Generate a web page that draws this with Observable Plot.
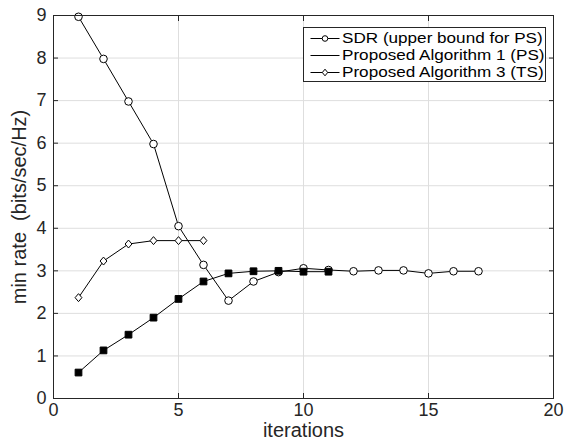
<!DOCTYPE html>
<html>
<head>
<meta charset="utf-8">
<script src="https://cdn.jsdelivr.net/npm/d3@7"></script>
<script src="https://cdn.jsdelivr.net/npm/@observablehq/plot@0.6"></script>
<style>
  body { margin: 0; background: #fff; }
  #wrap { position: relative; width: 565px; height: 444px; font-family: "Liberation Sans", Arial, sans-serif; }
  #wrap svg.plot text { fill: #262626; }
  #wrap [aria-label="x-axis label"] text, #wrap [aria-label="y-axis label"] text { font-size: 20px; }
  #legend { position: absolute; left: 303px; top: 27px; width: 241px; height: 53px; border: 1px solid #262626; background: #fff; font-size: 14.5px; color: #000; }
  #legend .row { position: absolute; left: 6px; height: 17px; width: 236px; }
  #legend svg { position: absolute; left: 0; top: 0; display: block; }
  #legend .lbl { position: absolute; left: 32px; top: 0; line-height: 17px; white-space: nowrap; transform: scaleX(1.18); transform-origin: 0 50%; }
</style>
</head>
<body>
<div id="wrap"></div>
<script>
const iterations = [1,2,3,4,5,6,7,8,9,10,11,12,13,14,15,16,17];
const sdrValues = [8.97, 7.98, 6.98, 5.98, 4.05, 3.14, 2.30, 2.75, 2.97, 3.06, 3.02, 2.99, 3.01, 3.01, 2.94, 2.99, 2.99];
const alg1Values = [0.61, 1.13, 1.50, 1.90, 2.34, 2.75, 2.94, 2.99, 3.00, 2.98, 2.98];
const alg3Values = [2.37, 3.23, 3.63, 3.71, 3.71, 3.71];
const xTicks = [0, 5, 10, 15, 20];
const yTicks = [0, 1, 2, 3, 4, 5, 6, 7, 8, 9];
const seriesNames = ["SDR (upper bound for PS)", "Proposed Algorithm 1 (PS)", "Proposed Algorithm 3 (TS)"];
const xLabel = "iterations";
const yLabel = "min rate\u00a0 (bits/sec/Hz)";

const sdr = sdrValues.map((v, i) => ({x: iterations[i], y: v}));
const alg1 = alg1Values.map((v, i) => ({x: iterations[i], y: v}));
const alg3 = alg3Values.map((v, i) => ({x: iterations[i], y: v}));

// MATLAB-like diamond (slightly taller than wide)
const matDiamond = {
  draw(context, size) {
    const r = Math.sqrt(size / Math.PI);
    const w = r * 0.9, h = r * 1.05;
    context.moveTo(0, -h);
    context.lineTo(w, 0);
    context.lineTo(0, h);
    context.lineTo(-w, 0);
    context.closePath();
  }
};

const chart = Plot.plot({
  width: 565,
  height: 444,
  marginLeft: 53,
  marginRight: 12,
  marginTop: 15,
  marginBottom: 46,
  style: { fontFamily: "'Liberation Sans', Arial, sans-serif", fontSize: "18px", background: "#fff" },
  x: { domain: [0, 20] },
  y: { domain: [0, 9] },
  marks: [
    Plot.gridX(xTicks, { stroke: "#dedede", strokeOpacity: 1 }),
    Plot.gridY(yTicks, { stroke: "#dedede", strokeOpacity: 1 }),
    Plot.axisX(xTicks, { anchor: "bottom", tickSize: 0, tickPadding: 5, label: xLabel, labelAnchor: "center", labelArrow: "none", labelOffset: 38 }),
    Plot.axisY(yTicks, { anchor: "left", tickSize: 0, tickPadding: 7, label: yLabel, labelAnchor: "center", labelArrow: "none", labelOffset: 42 }),
    Plot.axisX(xTicks, { anchor: "bottom", tickSize: -5, tickFormat: () => "", label: null, stroke: "#262626" }),
    Plot.axisX(xTicks, { anchor: "top", tickSize: -5, tickFormat: () => "", label: null, stroke: "#262626" }),
    Plot.axisY(yTicks, { anchor: "left", tickSize: -5, tickFormat: () => "", label: null, stroke: "#262626" }),
    Plot.axisY(yTicks, { anchor: "right", tickSize: -5, tickFormat: () => "", label: null, stroke: "#262626" }),
    Plot.line(sdr, { x: "x", y: "y", stroke: "#000", strokeWidth: 1 }),
    Plot.line(alg1, { x: "x", y: "y", stroke: "#000", strokeWidth: 1 }),
    Plot.line(alg3, { x: "x", y: "y", stroke: "#000", strokeWidth: 1 }),
    Plot.dot(sdr, { x: "x", y: "y", symbol: "circle", r: 3.8, stroke: "#000", fill: "#fff", strokeWidth: 1 }),
    Plot.dot(alg1, { x: "x", y: "y", symbol: "square", r: 3.8, stroke: "#000", fill: "#000", strokeWidth: 1 }),
    Plot.dot(alg3, { x: "x", y: "y", symbol: matDiamond, r: 3.8, stroke: "#000", fill: "#fff", strokeWidth: 1 }),
    Plot.frame({ stroke: "#262626", strokeWidth: 1 })
  ]
});
chart.classList.add("plot");
const wrap = document.getElementById("wrap");
wrap.appendChild(chart);

// Legend
const legend = document.createElement("div");
legend.id = "legend";
const markerKinds = ["circle", "none", "diamond"];
seriesNames.forEach((name, i) => {
  const row = document.createElement("div");
  row.className = "row";
  row.style.top = (1.5 + i * 17) + "px";
  let marker = "";
  if (markerKinds[i] === "circle") marker = '<circle cx="15" cy="8.5" r="2.8" fill="#fff" stroke="#000"/>';
  if (markerKinds[i] === "diamond") marker = '<path d="M15,5.2 L17.7,8.5 L15,11.8 L12.3,8.5 Z" fill="#fff" stroke="#000"/>';
  row.innerHTML = '<svg width="30" height="17"><line x1="0.5" y1="8.5" x2="29.5" y2="8.5" stroke="#000" stroke-width="1"/>' + marker + '</svg><span class="lbl">' + name + '</span>';
  legend.appendChild(row);
});
wrap.appendChild(legend);
</script>
</body>
</html>
